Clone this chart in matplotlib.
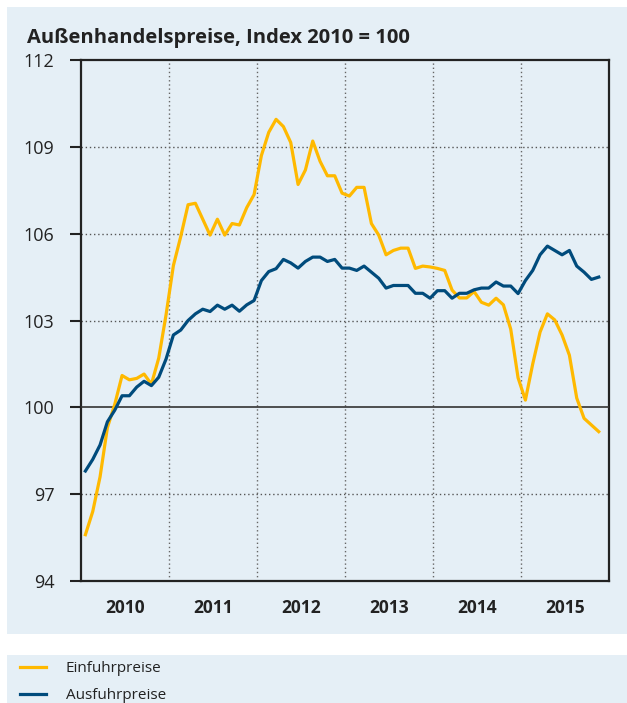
import matplotlib
matplotlib.use("Agg")
import matplotlib.pyplot as plt
import numpy as np
from matplotlib.patches import Rectangle

# monthly index values, Jan 2010 - Nov 2015
einfuhr = [95.6, 96.4, 97.6, 99.3, 100.1, 101.1, 100.95, 101.0, 101.15, 100.8, 101.7, 103.2,
           104.9, 105.9, 107.0, 107.05, 106.5, 105.95, 106.5, 105.95, 106.35, 106.3, 106.9, 107.35,
           108.7, 109.5, 109.95, 109.7, 109.15, 107.7, 108.2, 109.2, 108.5, 108.0, 108.0, 107.4,
           107.3, 107.6, 107.6, 106.35, 105.95, 105.27, 105.42, 105.5, 105.5, 104.8, 104.88, 104.85,
           104.8, 104.73, 104.05, 103.78, 103.78, 104.0, 103.63, 103.53, 103.77, 103.54, 102.7, 101.02,
           100.25, 101.5, 102.6, 103.23, 103.02, 102.5, 101.8, 100.32, 99.62, 99.39, 99.16]
ausfuhr = [97.8, 98.2, 98.7, 99.5, 99.9, 100.4, 100.4, 100.7, 100.9, 100.75, 101.04, 101.67,
           102.5, 102.67, 103.0, 103.23, 103.39, 103.31, 103.53, 103.39, 103.53, 103.32, 103.54, 103.69,
           104.38, 104.69, 104.79, 105.11, 104.99, 104.81, 105.04, 105.19, 105.19, 105.04, 105.11, 104.81,
           104.81, 104.73, 104.88, 104.67, 104.46, 104.12, 104.21, 104.21, 104.21, 103.94, 103.94, 103.77,
           104.03, 104.03, 103.77, 103.94, 103.94, 104.06, 104.12, 104.12, 104.33, 104.19, 104.19, 103.93,
           104.38, 104.73, 105.27, 105.57, 105.42, 105.27, 105.42, 104.88, 104.67, 104.42, 104.5]
years = ["2010", "2011", "2012", "2013", "2014", "2015"]
yticks = [94, 97, 100, 103, 106, 109, 112]

BG = "#e5eff6"
YELLOW = "#ffb900"
BLUE = "#004b7c"
TXT = "#222222"

plt.rcParams["font.family"] = ["Open Sans", "DejaVu Sans"]

fig = plt.figure(figsize=(6.27, 7.03), dpi=100)
fig.patch.set_facecolor("white")
W, H = 627, 703
fig.patches.append(Rectangle((7 / W, (H - 634) / H), 1, 627 / H, transform=fig.transFigure,
                             facecolor=BG, edgecolor="none", zorder=-10))
fig.patches.append(Rectangle((7 / W, 0), 1, 48 / H, transform=fig.transFigure,
                             facecolor=BG, edgecolor="none", zorder=-10))

ax = fig.add_axes([81 / W, (H - 581) / H, 528 / W, 521 / H])
ax.set_facecolor(BG)
ax.set_zorder(1)

x = np.arange(len(einfuhr)) + 0.6
ax.plot(x, einfuhr, color=YELLOW, lw=2.3, label="Einfuhrpreise", zorder=4)
ax.plot(x, ausfuhr, color=BLUE, lw=2.3, label="Ausfuhrpreise", zorder=5)

ax.set_xlim(0, 72)
ax.set_ylim(94, 112)

for y in yticks[1:-1]:
    if y == 100:
        ax.axhline(y, color="#333333", lw=1.2, zorder=3)
    else:
        ax.axhline(y, color="#555555", lw=1, ls=(0, (1, 2)), zorder=2)
for xv in range(12, 72, 12):
    ax.axvline(xv, color="#666666", lw=1, ls=(0, (1, 2)), zorder=2)

ax.set_yticks(yticks)
ax.set_yticklabels([str(v) for v in yticks])
ax.tick_params(axis="y", length=8, width=1.5, pad=11, labelsize=13, colors=TXT)
ax.set_xticks([12 * i + 6 for i in range(len(years))])
ax.set_xticklabels(years, fontweight="bold")
ax.tick_params(axis="x", length=0, pad=13, labelsize=12.5, colors=TXT)

for s in ax.spines.values():
    s.set_color("#222222")
    s.set_linewidth(1.6)

fig.text(27 / W, (H - 43) / H, "Außenhandelspreise, Index 2010 = 100",
         fontsize=14.5, fontweight="bold", color=TXT, ha="left", va="baseline")

fig.legend(loc="upper left", bbox_to_anchor=(20 / W, (H - 661) / H), frameon=False,
           fontsize=11, handlelength=1.7, handletextpad=1.3, labelspacing=0.8,
           borderpad=0, borderaxespad=0, labelcolor=TXT)

fig.savefig("out.png", dpi=100, facecolor="white")
